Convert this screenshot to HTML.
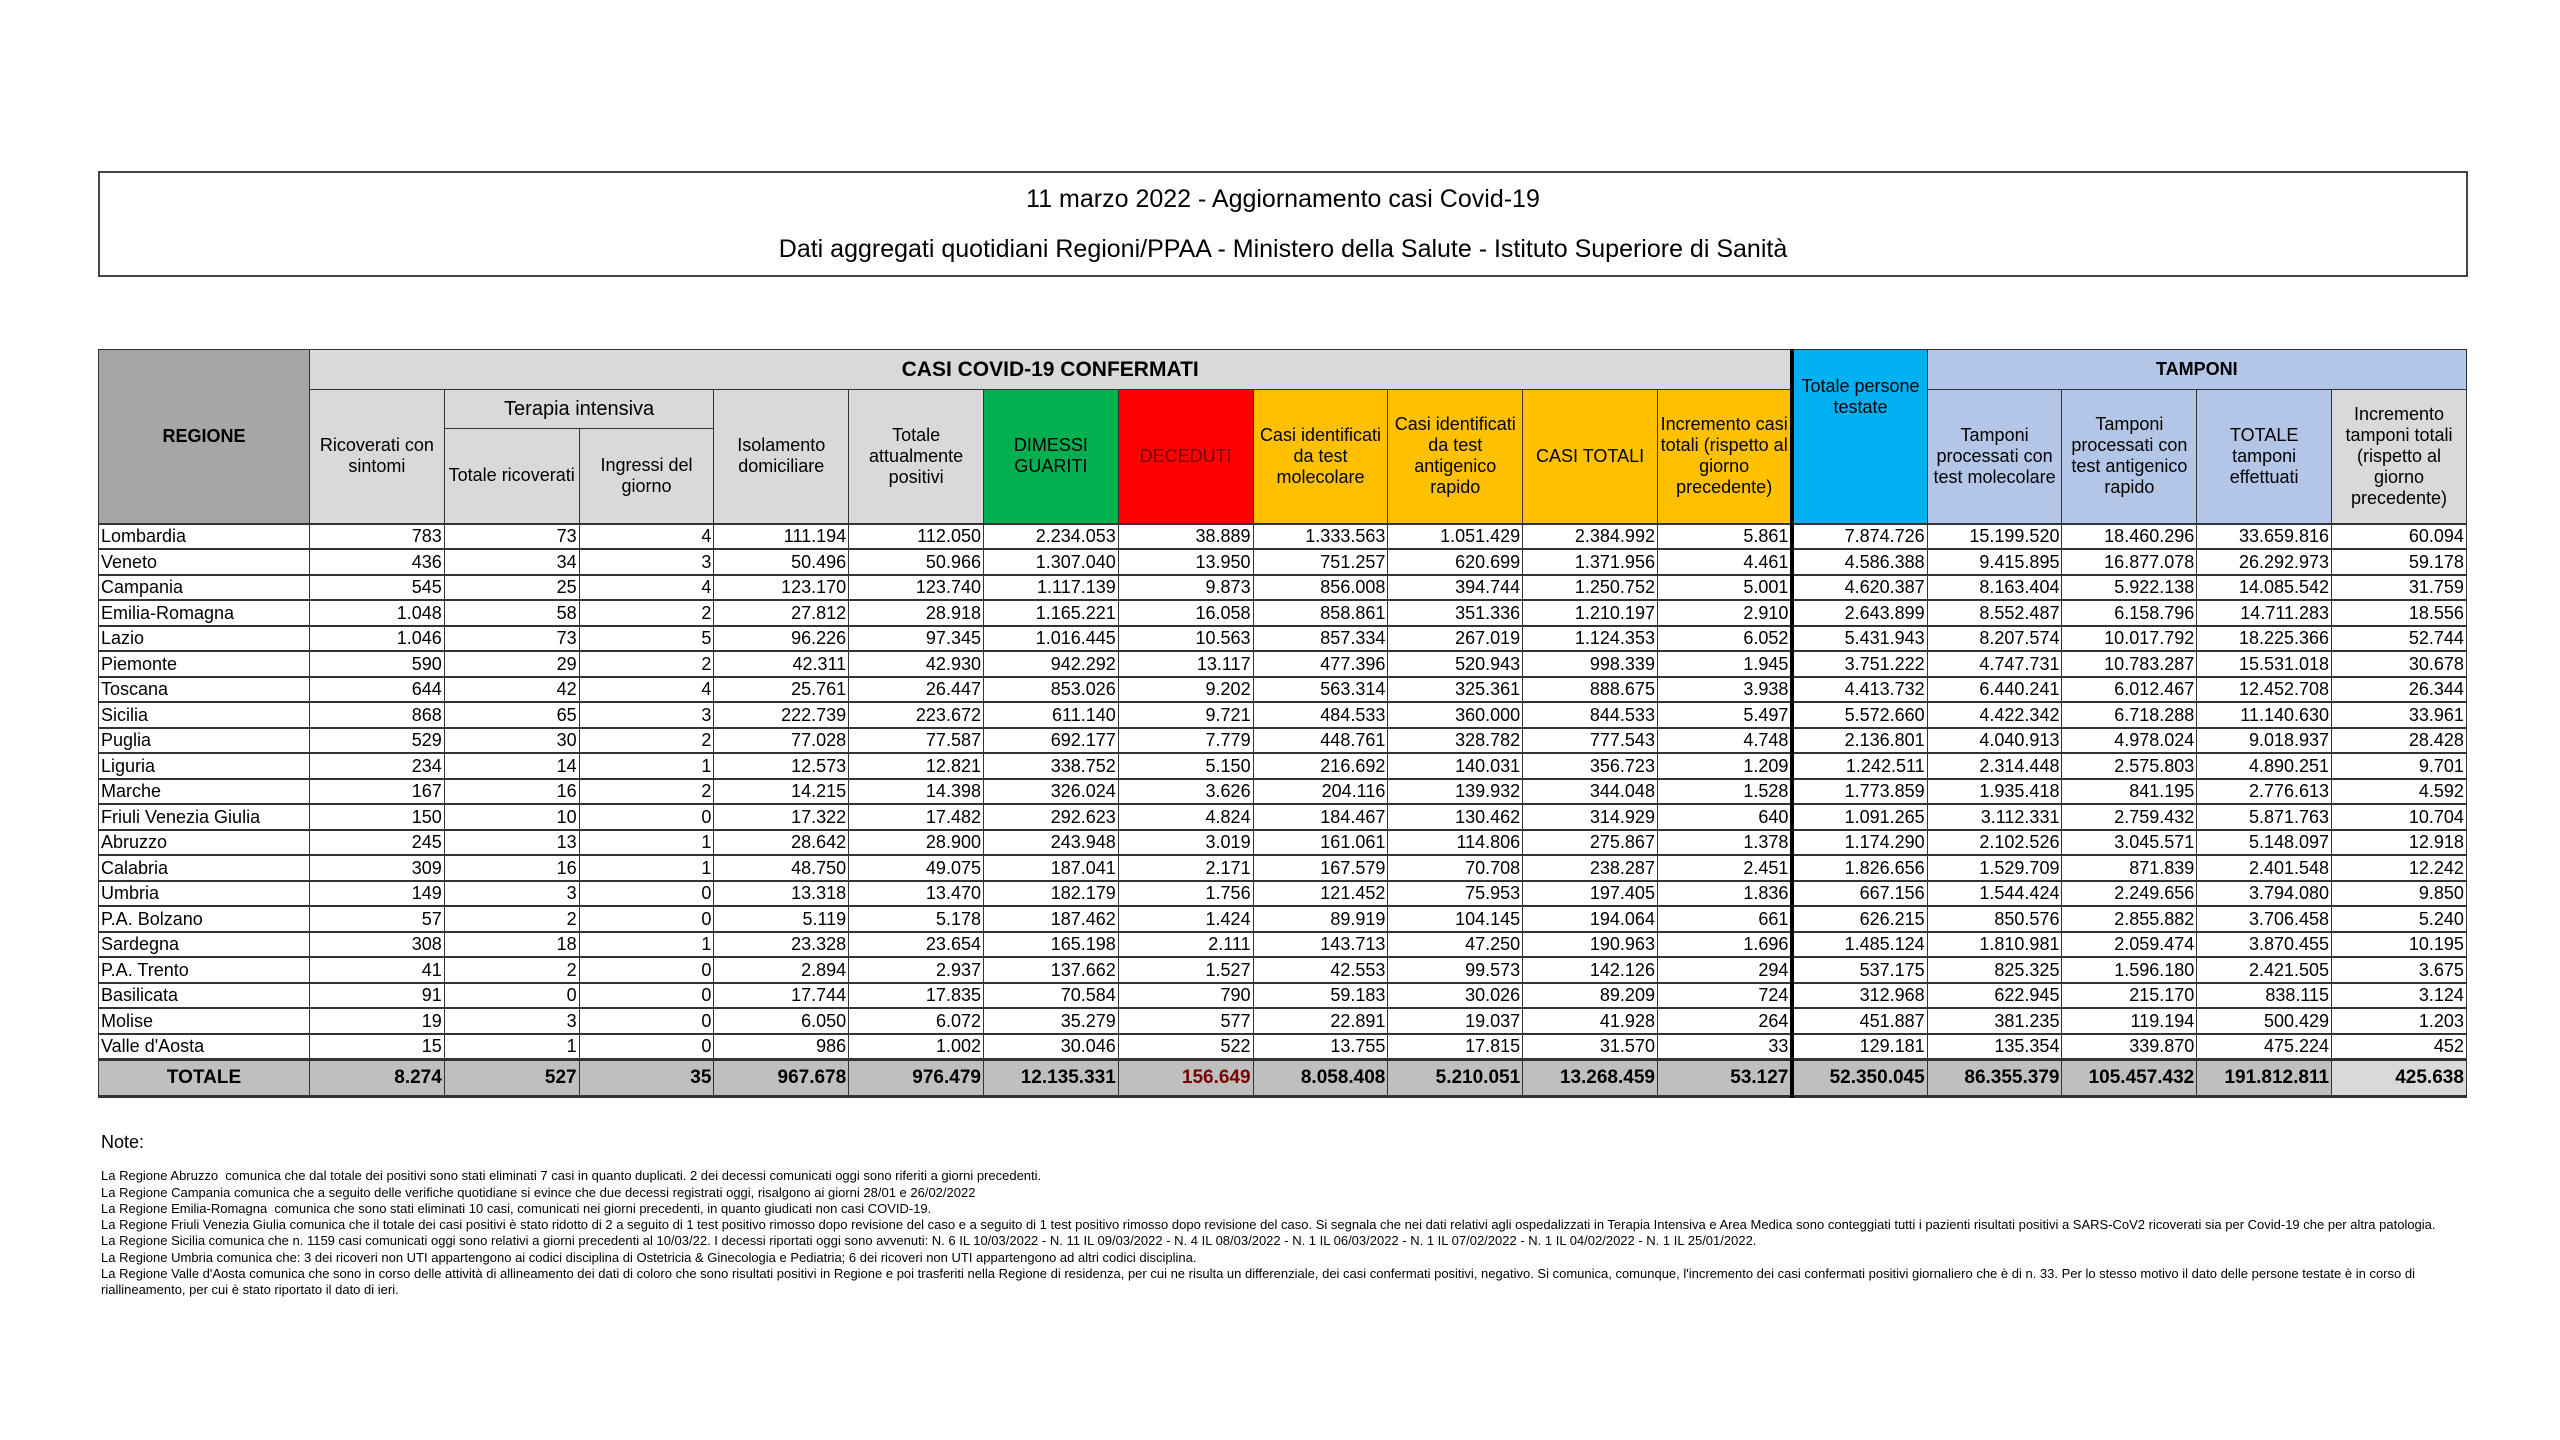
<!DOCTYPE html>
<html><head><meta charset="utf-8">
<style>
body{margin:0;width:2560px;height:1440px;background:#fff;position:relative;font-family:"Liberation Sans Narrow","Liberation Sans",sans-serif;color:#000;overflow:hidden}
#title{position:absolute;left:98px;top:171px;width:2366px;height:102px;border:2px solid #444;text-align:center;font-size:25px}
#title div{position:absolute;left:0;width:100%}
table{position:absolute;left:98px;top:349px;border-collapse:collapse;table-layout:fixed;width:2368px}
td{border:1.5px solid #333;padding:0 2px;font-size:18px;overflow:hidden;white-space:nowrap}
tr.d{height:25.5px}
tr.d td{text-align:right;border-top:2px solid #333;border-bottom:2px solid #333;line-height:20px;padding-top:0;padding-bottom:0}
tr.d td:first-child{text-align:left}
.h td{text-align:center;white-space:normal;line-height:21px;font-size:18px}
.g{background:#d9d9d9}.rg{background:#a6a6a6}.gr{background:#00b050}.rd{background:#ff0000;color:#7a0000}.ye{background:#ffc000}.cy{background:#00b0f0}.bl{background:#b4c6e7}
tr.t td{height:34px;background:#bfbfbf;text-align:right;font-weight:bold;font-size:19px;border-top:3px solid #333;border-bottom:3px solid #333}
.thick{border-left:4px solid #000 !important}
#notes{position:absolute;left:101px;top:1134px;font-size:13px;line-height:16.3px}
</style></head><body>
<div id="title"><div style="top:12px">11 marzo 2022 - Aggiornamento casi Covid-19</div><div style="top:62px">Dati aggregati quotidiani Regioni/PPAA - Ministero della Salute - Istituto Superiore di Sanità</div></div>
<table>
<colgroup><col style="width:211px"><col span="16" style="width:134.8px"></colgroup>
<tr class="h" style="height:40px"><td rowspan="3" class="rg"><b>REGIONE</b></td><td colspan="11" class="g" style="font-size:21px"><b>CASI COVID-19 CONFERMATI</b></td><td rowspan="3" class="cy thick" style="vertical-align:top;padding-top:26px">Totale persone testate</td><td colspan="4" class="bl"><b>TAMPONI</b></td></tr>
<tr class="h" style="height:39px"><td rowspan="2" class="g">Ricoverati con sintomi</td><td colspan="2" class="g" style="font-size:20px">Terapia intensiva</td><td rowspan="2" class="g">Isolamento domiciliare</td><td rowspan="2" class="g">Totale attualmente positivi</td><td rowspan="2" class="gr">DIMESSI GUARITI</td><td rowspan="2" class="rd">DECEDUTI</td><td rowspan="2" class="ye">Casi identificati da test molecolare</td><td rowspan="2" class="ye">Casi identificati da test antigenico rapido</td><td rowspan="2" class="ye">CASI TOTALI</td><td rowspan="2" class="ye">Incremento casi totali (rispetto al giorno precedente)</td><td rowspan="2" class="bl">Tamponi processati con test molecolare</td><td rowspan="2" class="bl">Tamponi processati con test antigenico rapido</td><td rowspan="2" class="bl">TOTALE tamponi effettuati</td><td rowspan="2" class="g">Incremento tamponi totali (rispetto al giorno precedente)</td></tr>
<tr class="h" style="height:95px"><td class="g">Totale ricoverati</td><td class="g">Ingressi del giorno</td></tr>
<tr class="d"><td>Lombardia</td><td>783</td><td>73</td><td>4</td><td>111.194</td><td>112.050</td><td>2.234.053</td><td>38.889</td><td>1.333.563</td><td>1.051.429</td><td>2.384.992</td><td>5.861</td><td class="thick">7.874.726</td><td>15.199.520</td><td>18.460.296</td><td>33.659.816</td><td>60.094</td></tr>
<tr class="d"><td>Veneto</td><td>436</td><td>34</td><td>3</td><td>50.496</td><td>50.966</td><td>1.307.040</td><td>13.950</td><td>751.257</td><td>620.699</td><td>1.371.956</td><td>4.461</td><td class="thick">4.586.388</td><td>9.415.895</td><td>16.877.078</td><td>26.292.973</td><td>59.178</td></tr>
<tr class="d"><td>Campania</td><td>545</td><td>25</td><td>4</td><td>123.170</td><td>123.740</td><td>1.117.139</td><td>9.873</td><td>856.008</td><td>394.744</td><td>1.250.752</td><td>5.001</td><td class="thick">4.620.387</td><td>8.163.404</td><td>5.922.138</td><td>14.085.542</td><td>31.759</td></tr>
<tr class="d"><td>Emilia-Romagna</td><td>1.048</td><td>58</td><td>2</td><td>27.812</td><td>28.918</td><td>1.165.221</td><td>16.058</td><td>858.861</td><td>351.336</td><td>1.210.197</td><td>2.910</td><td class="thick">2.643.899</td><td>8.552.487</td><td>6.158.796</td><td>14.711.283</td><td>18.556</td></tr>
<tr class="d"><td>Lazio</td><td>1.046</td><td>73</td><td>5</td><td>96.226</td><td>97.345</td><td>1.016.445</td><td>10.563</td><td>857.334</td><td>267.019</td><td>1.124.353</td><td>6.052</td><td class="thick">5.431.943</td><td>8.207.574</td><td>10.017.792</td><td>18.225.366</td><td>52.744</td></tr>
<tr class="d"><td>Piemonte</td><td>590</td><td>29</td><td>2</td><td>42.311</td><td>42.930</td><td>942.292</td><td>13.117</td><td>477.396</td><td>520.943</td><td>998.339</td><td>1.945</td><td class="thick">3.751.222</td><td>4.747.731</td><td>10.783.287</td><td>15.531.018</td><td>30.678</td></tr>
<tr class="d"><td>Toscana</td><td>644</td><td>42</td><td>4</td><td>25.761</td><td>26.447</td><td>853.026</td><td>9.202</td><td>563.314</td><td>325.361</td><td>888.675</td><td>3.938</td><td class="thick">4.413.732</td><td>6.440.241</td><td>6.012.467</td><td>12.452.708</td><td>26.344</td></tr>
<tr class="d"><td>Sicilia</td><td>868</td><td>65</td><td>3</td><td>222.739</td><td>223.672</td><td>611.140</td><td>9.721</td><td>484.533</td><td>360.000</td><td>844.533</td><td>5.497</td><td class="thick">5.572.660</td><td>4.422.342</td><td>6.718.288</td><td>11.140.630</td><td>33.961</td></tr>
<tr class="d"><td>Puglia</td><td>529</td><td>30</td><td>2</td><td>77.028</td><td>77.587</td><td>692.177</td><td>7.779</td><td>448.761</td><td>328.782</td><td>777.543</td><td>4.748</td><td class="thick">2.136.801</td><td>4.040.913</td><td>4.978.024</td><td>9.018.937</td><td>28.428</td></tr>
<tr class="d"><td>Liguria</td><td>234</td><td>14</td><td>1</td><td>12.573</td><td>12.821</td><td>338.752</td><td>5.150</td><td>216.692</td><td>140.031</td><td>356.723</td><td>1.209</td><td class="thick">1.242.511</td><td>2.314.448</td><td>2.575.803</td><td>4.890.251</td><td>9.701</td></tr>
<tr class="d"><td>Marche</td><td>167</td><td>16</td><td>2</td><td>14.215</td><td>14.398</td><td>326.024</td><td>3.626</td><td>204.116</td><td>139.932</td><td>344.048</td><td>1.528</td><td class="thick">1.773.859</td><td>1.935.418</td><td>841.195</td><td>2.776.613</td><td>4.592</td></tr>
<tr class="d"><td>Friuli Venezia Giulia</td><td>150</td><td>10</td><td>0</td><td>17.322</td><td>17.482</td><td>292.623</td><td>4.824</td><td>184.467</td><td>130.462</td><td>314.929</td><td>640</td><td class="thick">1.091.265</td><td>3.112.331</td><td>2.759.432</td><td>5.871.763</td><td>10.704</td></tr>
<tr class="d"><td>Abruzzo</td><td>245</td><td>13</td><td>1</td><td>28.642</td><td>28.900</td><td>243.948</td><td>3.019</td><td>161.061</td><td>114.806</td><td>275.867</td><td>1.378</td><td class="thick">1.174.290</td><td>2.102.526</td><td>3.045.571</td><td>5.148.097</td><td>12.918</td></tr>
<tr class="d"><td>Calabria</td><td>309</td><td>16</td><td>1</td><td>48.750</td><td>49.075</td><td>187.041</td><td>2.171</td><td>167.579</td><td>70.708</td><td>238.287</td><td>2.451</td><td class="thick">1.826.656</td><td>1.529.709</td><td>871.839</td><td>2.401.548</td><td>12.242</td></tr>
<tr class="d"><td>Umbria</td><td>149</td><td>3</td><td>0</td><td>13.318</td><td>13.470</td><td>182.179</td><td>1.756</td><td>121.452</td><td>75.953</td><td>197.405</td><td>1.836</td><td class="thick">667.156</td><td>1.544.424</td><td>2.249.656</td><td>3.794.080</td><td>9.850</td></tr>
<tr class="d"><td>P.A. Bolzano</td><td>57</td><td>2</td><td>0</td><td>5.119</td><td>5.178</td><td>187.462</td><td>1.424</td><td>89.919</td><td>104.145</td><td>194.064</td><td>661</td><td class="thick">626.215</td><td>850.576</td><td>2.855.882</td><td>3.706.458</td><td>5.240</td></tr>
<tr class="d"><td>Sardegna</td><td>308</td><td>18</td><td>1</td><td>23.328</td><td>23.654</td><td>165.198</td><td>2.111</td><td>143.713</td><td>47.250</td><td>190.963</td><td>1.696</td><td class="thick">1.485.124</td><td>1.810.981</td><td>2.059.474</td><td>3.870.455</td><td>10.195</td></tr>
<tr class="d"><td>P.A. Trento</td><td>41</td><td>2</td><td>0</td><td>2.894</td><td>2.937</td><td>137.662</td><td>1.527</td><td>42.553</td><td>99.573</td><td>142.126</td><td>294</td><td class="thick">537.175</td><td>825.325</td><td>1.596.180</td><td>2.421.505</td><td>3.675</td></tr>
<tr class="d"><td>Basilicata</td><td>91</td><td>0</td><td>0</td><td>17.744</td><td>17.835</td><td>70.584</td><td>790</td><td>59.183</td><td>30.026</td><td>89.209</td><td>724</td><td class="thick">312.968</td><td>622.945</td><td>215.170</td><td>838.115</td><td>3.124</td></tr>
<tr class="d"><td>Molise</td><td>19</td><td>3</td><td>0</td><td>6.050</td><td>6.072</td><td>35.279</td><td>577</td><td>22.891</td><td>19.037</td><td>41.928</td><td>264</td><td class="thick">451.887</td><td>381.235</td><td>119.194</td><td>500.429</td><td>1.203</td></tr>
<tr class="d"><td>Valle d'Aosta</td><td>15</td><td>1</td><td>0</td><td>986</td><td>1.002</td><td>30.046</td><td>522</td><td>13.755</td><td>17.815</td><td>31.570</td><td>33</td><td class="thick">129.181</td><td>135.354</td><td>339.870</td><td>475.224</td><td>452</td></tr>
<tr class="t"><td class="rg" style="text-align:center">TOTALE</td><td>8.274</td><td>527</td><td>35</td><td>967.678</td><td>976.479</td><td class="gr">12.135.331</td><td class="rd">156.649</td><td class="ye">8.058.408</td><td class="ye">5.210.051</td><td class="ye">13.268.459</td><td class="ye">53.127</td><td class="cy thick">52.350.045</td><td class="bl">86.355.379</td><td class="bl">105.457.432</td><td class="bl">191.812.811</td><td style="background:#d9d9d9">425.638</td></tr>
</table>
<div id="notes">
<div style="font-size:18px;margin-bottom:18px">Note:</div>
<div>La Regione Abruzzo&nbsp; comunica che dal totale dei positivi sono stati eliminati 7 casi in quanto duplicati. 2 dei decessi comunicati oggi sono riferiti a giorni precedenti.</div>
<div>La Regione Campania comunica che a seguito delle verifiche quotidiane si evince che due decessi registrati oggi, risalgono ai giorni 28/01 e 26/02/2022</div>
<div>La Regione Emilia-Romagna&nbsp; comunica che sono stati eliminati 10 casi, comunicati nei giorni precedenti, in quanto giudicati non casi COVID-19.</div>
<div>La Regione Friuli Venezia Giulia comunica che il totale dei casi positivi è stato ridotto di 2 a seguito di 1 test positivo rimosso dopo revisione del caso e a seguito di 1 test positivo rimosso dopo revisione del caso. Si segnala che nei dati relativi agli ospedalizzati in Terapia Intensiva e Area Medica sono conteggiati tutti i pazienti risultati positivi a SARS-CoV2 ricoverati sia per Covid-19 che per altra patologia.</div>
<div>La Regione Sicilia comunica che n. 1159 casi comunicati oggi sono relativi a giorni precedenti al 10/03/22. I decessi riportati oggi sono avvenuti: N. 6 IL 10/03/2022 - N. 11 IL 09/03/2022 - N. 4 IL 08/03/2022 - N. 1 IL 06/03/2022 - N. 1 IL 07/02/2022 - N. 1 IL 04/02/2022 - N. 1 IL 25/01/2022.</div>
<div>La Regione Umbria comunica che: 3 dei ricoveri non UTI appartengono ai codici disciplina di Ostetricia &amp; Ginecologia e Pediatria; 6 dei ricoveri non UTI appartengono ad altri codici disciplina.</div>
<div>La Regione Valle d'Aosta comunica che sono in corso delle attività di allineamento dei dati di coloro che sono risultati positivi in Regione e poi trasferiti nella Regione di residenza, per cui ne risulta un differenziale, dei casi confermati positivi, negativo. Si comunica, comunque, l'incremento dei casi confermati positivi giornaliero che è di n. 33. Per lo stesso motivo il dato delle persone testate è in corso di</div>
<div>riallineamento, per cui è stato riportato il dato di ieri.</div>
</div>
</body></html>
